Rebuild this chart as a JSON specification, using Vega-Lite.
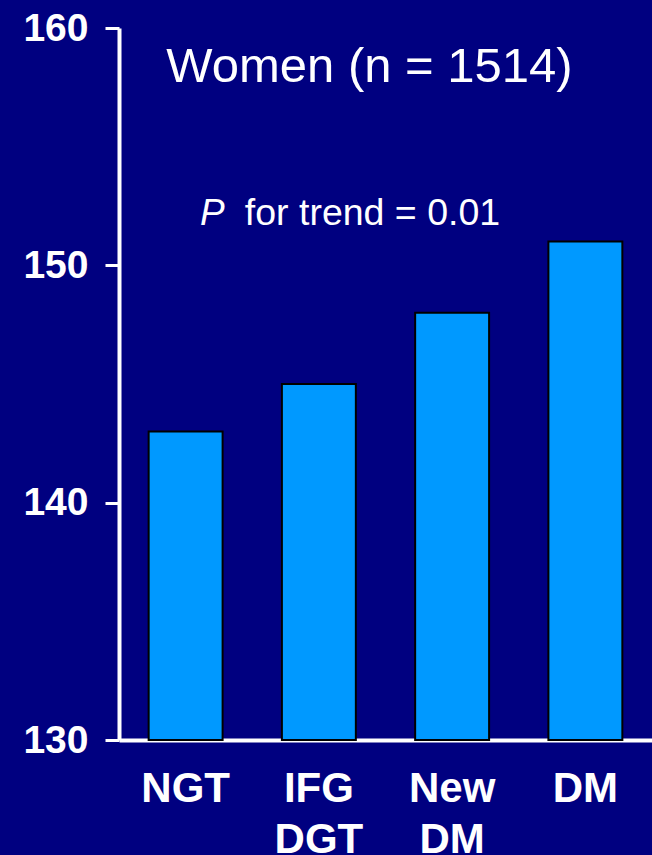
{
  "$schema": "https://vega.github.io/schema/vega-lite/v6.json",
  "width": 533,
  "height": 712,
  "autosize": {"type": "none"},
  "padding": {"left": 119, "top": 28, "right": 0, "bottom": 115},
  "background": "#000080",
  "config": {"view": {"stroke": null}, "font": "Liberation Sans"},
  "datasets": {
    "groups": [
      {"group": "NGT", "value": 143},
      {"group": "IFG\nDGT", "value": 145},
      {"group": "New\nDM", "value": 148},
      {"group": "DM", "value": 151}
    ],
    "notes": [
      {"kind": "title", "text": "Women (n = 1514)", "px": 0.47, "py": 157.72},
      {"kind": "p", "text": "P", "px": 0.152, "py": 151.7},
      {"kind": "trend", "text": "for trend = 0.01", "px": 0.236, "py": 151.7}
    ]
  },
  "layer": [
    {
      "data": {"name": "groups"},
      "mark": {"type": "bar", "fill": "#0099FF", "stroke": "#000000", "strokeWidth": 2},
      "encoding": {
        "x": {
          "field": "group",
          "type": "nominal",
          "sort": null,
          "scale": {"paddingInner": 0.445, "paddingOuter": 0.2225},
          "axis": {
            "title": null,
            "labelAngle": 0,
            "labelExpr": "split(datum.label, '\\n')",
            "labelFontWeight": "bold",
            "labelFontSize": 42,
            "labelColor": "white",
            "labelPadding": 28,
            "labelLineHeight": 51,
            "labelBaseline": "top",
            "ticks": false,
            "domainColor": "white",
            "domainWidth": 4
          }
        },
        "y": {
          "field": "value",
          "type": "quantitative",
          "scale": {"domain": [130, 160], "zero": false, "nice": false},
          "axis": {
            "title": null,
            "values": [130, 140, 150, 160],
            "grid": false,
            "labelFontWeight": "bold",
            "labelFontSize": 39,
            "labelColor": "white",
            "labelPadding": 17,
            "labelFlush": false,
            "labelOverlap": false,
            "tickSize": 14,
            "tickWidth": 3,
            "tickColor": "white",
            "domainColor": "white",
            "domainWidth": 4
          }
        },
        "y2": {"datum": 130}
      }
    },
    {
      "data": {"name": "notes"},
      "transform": [{"filter": "datum.kind === 'title'"}],
      "mark": {"type": "text", "color": "white", "fontSize": 49, "align": "center", "baseline": "alphabetic"},
      "encoding": {
        "x": {"field": "px", "type": "quantitative", "scale": {"domain": [0, 1], "nice": false, "zero": false}, "axis": null},
        "y": {"field": "py", "type": "quantitative"},
        "text": {"field": "text"}
      }
    },
    {
      "data": {"name": "notes"},
      "transform": [{"filter": "datum.kind === 'p'"}],
      "mark": {"type": "text", "color": "white", "fontSize": 37, "fontStyle": "italic", "align": "left", "baseline": "alphabetic"},
      "encoding": {
        "x": {"field": "px", "type": "quantitative", "scale": {"domain": [0, 1], "nice": false, "zero": false}, "axis": null},
        "y": {"field": "py", "type": "quantitative"},
        "text": {"field": "text"}
      }
    },
    {
      "data": {"name": "notes"},
      "transform": [{"filter": "datum.kind === 'trend'"}],
      "mark": {"type": "text", "color": "white", "fontSize": 37.5, "align": "left", "baseline": "alphabetic"},
      "encoding": {
        "x": {"field": "px", "type": "quantitative", "scale": {"domain": [0, 1], "nice": false, "zero": false}, "axis": null},
        "y": {"field": "py", "type": "quantitative"},
        "text": {"field": "text"}
      }
    }
  ],
  "resolve": {"scale": {"x": "independent"}}
}
